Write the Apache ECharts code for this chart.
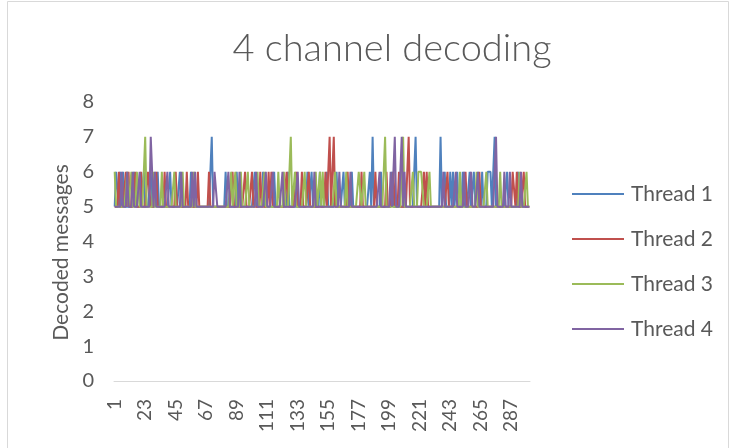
<!DOCTYPE html>
<html>
<head>
<meta charset="utf-8">
<script src="https://cdn.jsdelivr.net/npm/echarts@6/dist/echarts.min.js"></script>
<style>
  html, body { margin: 0; padding: 0; background: #ffffff; }
  #chart { width: 731px; height: 448px; }
</style>
</head>
<body>
<div id="chart"></div>
<script>
// Decoded messages per run, one array per decoding thread (300 runs each)
const thread1 = [
  5,6,6,5,6,5,6,5,5,5,5,5,5,5,6,5,5,5,5,5,
  5,6,5,5,5,5,6,5,5,5,5,6,5,5,5,5,5,5,5,5,
  6,5,5,5,5,5,5,6,5,5,5,5,5,5,5,6,5,5,5,5,
  5,5,5,5,5,5,5,5,5,5,7,5,5,5,5,5,5,5,5,5,
  6,5,5,5,5,5,5,5,6,5,5,5,5,5,5,5,5,5,5,5,
  5,6,5,5,5,5,5,6,5,5,5,5,5,5,5,6,5,5,5,5,
  5,5,5,5,5,6,5,5,5,5,5,5,5,5,5,5,5,5,5,6,
  5,5,6,5,5,5,5,5,6,5,5,5,5,6,5,5,5,5,5,5,
  6,5,5,5,5,6,5,5,5,5,5,6,5,5,5,5,5,5,5,5,
  5,5,5,5,6,5,7,5,5,5,5,5,6,5,5,5,5,5,5,5,
  6,5,5,5,5,5,5,5,5,5,5,5,5,5,5,5,5,7,5,5,
  5,5,5,5,5,5,5,5,5,5,5,5,5,5,5,7,5,5,6,5,
  5,5,6,5,6,5,5,6,5,5,5,6,5,5,5,5,6,5,5,6,
  5,5,5,5,5,6,5,5,5,6,6,6,5,5,7,5,5,5,5,5,
  5,5,5,6,5,5,5,5,5,5,5,6,5,5,5,5,5,5,5,5
];
const thread2 = [
  5,5,5,6,5,5,5,5,6,5,6,5,5,5,5,6,5,5,5,6,
  5,5,5,5,6,6,5,5,5,5,6,5,5,5,5,5,6,5,5,5,
  5,5,5,5,6,5,5,5,5,5,5,5,6,5,5,5,5,5,5,5,
  6,5,5,5,5,5,5,5,6,5,5,5,5,5,5,5,5,5,5,5,
  5,5,5,5,5,6,5,5,5,5,5,5,5,5,6,5,5,5,5,6,
  5,5,5,5,5,6,5,5,5,5,5,6,5,6,5,5,5,5,5,5,
  5,5,5,5,6,5,5,5,5,5,5,6,5,5,5,6,5,5,5,5,
  6,5,5,5,5,5,5,5,5,5,5,5,6,5,5,7,5,5,7,5,
  5,5,5,5,5,5,5,5,6,5,5,5,5,5,5,5,5,5,6,5,
  5,5,5,5,5,5,5,5,6,5,5,5,5,5,5,5,6,5,5,5,
  5,6,5,5,5,6,5,5,5,5,5,5,7,5,5,5,5,5,5,5,
  5,5,5,6,5,6,5,5,5,5,5,5,5,5,5,5,5,5,5,5,
  6,5,5,5,5,5,5,5,5,5,5,5,5,6,5,5,5,5,5,5,
  5,5,5,6,5,5,5,5,5,5,5,5,5,5,5,5,5,5,5,5,
  5,5,5,5,5,5,5,6,6,5,6,5,5,5,5,6,5,5,5,5
];
const thread3 = [
  6,5,5,5,5,5,5,5,5,6,5,5,6,5,5,5,6,6,5,5,
  5,5,7,5,5,5,5,5,6,5,5,5,5,5,6,5,5,5,5,5,
  5,5,5,6,5,5,5,5,5,6,5,5,5,5,5,5,5,6,5,5,
  5,5,5,5,5,5,5,5,5,5,5,5,5,5,5,5,5,5,5,5,
  5,5,5,5,6,5,5,6,5,5,5,6,5,5,5,5,6,5,5,5,
  5,5,5,6,5,5,5,5,6,5,5,5,5,5,5,5,5,5,6,5,
  5,5,6,5,5,5,5,7,5,5,6,5,5,5,5,5,5,6,5,5,
  5,5,5,5,5,6,5,5,6,5,6,5,5,5,5,5,5,5,5,6,
  5,5,5,5,5,5,5,6,5,5,5,5,5,5,5,5,6,6,5,5,
  6,5,5,5,5,5,5,5,5,5,5,5,5,5,5,7,5,5,5,5,
  5,5,5,5,5,5,5,5,7,5,5,5,5,5,5,6,5,5,5,6,
  6,6,6,5,5,5,5,6,5,5,5,5,5,5,5,5,5,5,5,5,
  5,5,5,5,5,5,5,5,5,6,5,5,5,5,5,5,5,5,5,5,
  5,6,5,5,5,5,5,5,6,5,5,5,5,5,5,5,5,5,6,5,
  5,5,5,5,5,5,5,5,5,5,5,5,6,5,5,5,5,6,5,5
];
const thread4 = [
  5,5,5,5,5,6,5,5,5,6,5,5,5,6,5,5,5,5,6,5,
  5,5,5,5,5,5,7,7,5,6,5,5,5,5,5,5,5,5,6,5,
  5,5,5,5,5,5,5,5,6,5,5,5,5,5,5,5,6,5,6,5,
  5,5,5,5,5,5,5,5,5,5,5,5,6,6,5,5,5,5,5,5,
  5,5,6,5,5,5,5,5,5,5,6,5,5,5,5,5,5,5,5,5,
  5,5,6,5,5,5,5,5,5,6,5,5,5,5,6,5,5,5,5,5,
  5,6,5,5,5,5,5,5,5,5,5,5,6,5,5,5,5,5,5,5,
  5,5,5,5,6,5,5,5,5,5,5,5,5,5,5,5,5,5,5,5,
  5,5,6,5,5,5,5,5,5,5,6,5,5,5,5,5,5,5,5,5,
  5,5,5,5,5,5,5,5,5,5,5,6,5,5,5,5,5,5,5,6,
  5,5,7,5,5,5,5,7,5,6,5,5,5,5,5,5,5,5,5,5,
  5,5,5,5,5,5,5,5,5,5,5,5,5,5,5,5,5,6,5,5,
  5,5,5,5,5,5,6,5,5,5,5,5,6,5,5,5,5,6,5,5,
  5,5,6,5,5,5,5,5,5,5,5,5,5,5,5,7,5,5,5,5,
  5,6,5,5,5,6,5,5,5,5,5,5,5,6,5,5,5,5,5,5
];

const seriesNames = ['Thread 1', 'Thread 2', 'Thread 3', 'Thread 4'];
const seriesColors = ['#4F81BD', '#C0504D', '#9BBB59', '#8064A2'];
const seriesData = [thread1, thread2, thread3, thread4];

// Run numbers 1..300 along the category axis
const runs = Array.from({ length: thread1.length }, (_, i) => String(i + 1));

const textColor = '#595959';
const fontFamily = 'Lato, "Open Sans", sans-serif';

const chart = echarts.init(document.getElementById('chart'), null, { renderer: 'canvas' });

chart.setOption({
  animation: false,
  backgroundColor: '#ffffff',
  textStyle: { fontFamily: fontFamily, color: textColor },
  title: {
    text: '4 channel decoding',
    left: 387,
    top: 25,
    textAlign: 'center',
    textStyle: { fontFamily: fontFamily, fontSize: 38, fontWeight: 300, color: textColor }
  },
  graphic: [{
    type: 'rect',
    shape: { x: 7.5, y: 1.5, width: 721, height: 470 },
    style: { fill: 'none', stroke: '#d9d9d9', lineWidth: 1 },
    silent: true
  }],
  legend: {
    orient: 'vertical',
    left: 572,
    top: 182,
    padding: 0,
    icon: 'rect',
    itemWidth: 52,
    itemHeight: 2,
    itemGap: 21,
    textStyle: { fontFamily: fontFamily, fontSize: 21, color: textColor, lineHeight: 24, padding: [0, 0, 0, 2] },
    data: seriesNames
  },
  grid: { left: 114, right: 201, top: 102, bottom: 67, containLabel: false },
  xAxis: {
    type: 'category',
    data: runs,
    boundaryGap: true,
    axisLine: { show: true, lineStyle: { color: '#d9d9d9', width: 1 } },
    axisTick: { show: false },
    axisLabel: {
      interval: 21,
      rotate: 90,
      margin: 18,
      fontSize: 19,
      color: textColor,
      fontFamily: fontFamily
    },
    splitLine: { show: false }
  },
  yAxis: {
    type: 'value',
    min: 0,
    max: 8,
    interval: 1,
    name: 'Decoded messages',
    nameLocation: 'middle',
    nameGap: 42,
    nameTextStyle: { fontFamily: fontFamily, fontSize: 21, color: textColor, padding: [0, 22, 0, 0] },
    axisLine: { show: false },
    axisTick: { show: false },
    axisLabel: { fontSize: 20, color: textColor, margin: 20, fontFamily: fontFamily },
    splitLine: { show: false }
  },
  series: seriesNames.map((name, k) => ({
    name: name,
    type: 'line',
    data: seriesData[k],
    symbol: 'none',
    color: seriesColors[k],
    lineStyle: { width: 2, color: seriesColors[k] },
    emphasis: { disabled: true }
  }))
});
</script>
</body>
</html>
